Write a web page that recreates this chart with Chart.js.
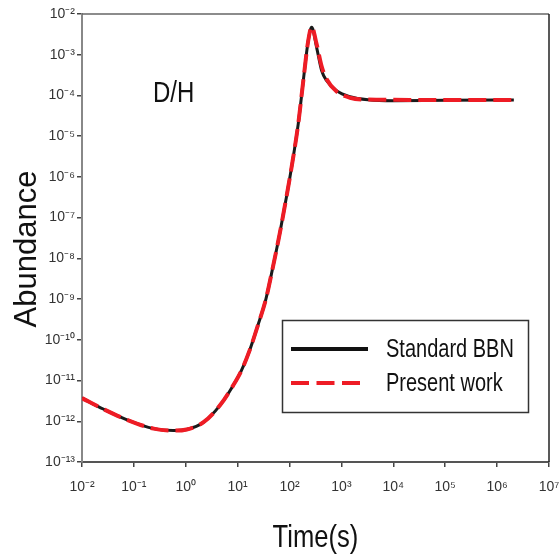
<!DOCTYPE html>
<html>
<head>
<meta charset="utf-8">
<script src="https://cdn.jsdelivr.net/npm/chart.js@4.4.1/dist/chart.umd.min.js"></script>
<style>
html,body{margin:0;padding:0;background:#fff;}
#wrap{position:relative;width:559px;height:556px;}
</style>
</head>
<body>
<div id="wrap"><canvas id="c" width="559" height="556"></canvas></div>
<script>
// ---- data ----
const times = [0.01, 0.0257, 0.072, 0.24, 0.58, 1.04, 2.2, 4.6, 8.2, 11.9, 17, 24.6, 35, 48, 65, 85, 110, 147, 184, 229, 267, 333, 415, 519, 807, 1460, 3300, 10000, 100000, 1000000, 2100000];
const standardBBN = [3.7e-12, 2.0e-12, 1.1e-12, 6.6e-13, 5.9e-13, 6.3e-13, 9.5e-13, 2.5e-12, 7.6e-12, 1.8e-11, 5.5e-11, 2.3e-10, 1.0e-9, 6.3e-9, 4.2e-8, 2.7e-7, 1.8e-6, 2.0e-5, 2.3e-4, 2.2e-3, 4.7e-3, 1.5e-3, 4.1e-4, 2.3e-4, 1.3e-4, 9.3e-5, 7.8e-5, 7.4e-5, 7.6e-5, 7.7e-5, 7.7e-5];
const presentWork = [3.7e-12, 2.0e-12, 1.1e-12, 6.6e-13, 5.9e-13, 6.3e-13, 9.5e-13, 2.5e-12, 7.6e-12, 1.8e-11, 5.5e-11, 2.3e-10, 1.0e-9, 6.3e-9, 4.2e-8, 2.7e-7, 1.8e-6, 2.0e-5, 2.3e-4, 2.2e-3, 4.8e-3, 1.8e-3, 5.2e-4, 2.5e-4, 1.25e-4, 8.8e-5, 7.9e-5, 7.8e-5, 7.7e-5, 7.7e-5, 7.7e-5];
const seriesNames = ['Standard BBN', 'Present work'];
const xTickExps = [-2, -1, 0, 1, 2, 3, 4, 5, 6, 7];
const yTickExps = [-13, -12, -11, -10, -9, -8, -7, -6, -5, -4, -3, -2];
const xTitle = 'Time(s)';
const yTitle = 'Abundance';
const panelLabel = 'D/H';

const SUP = {'-':'\u207B','0':'\u2070','1':'\u00B9','2':'\u00B2','3':'\u00B3','4':'\u2074','5':'\u2075','6':'\u2076','7':'\u2077','8':'\u2078','9':'\u2079'};
function powLabel(v){
  const e = Math.round(Math.log10(v));
  return '10' + String(e).split('').map(c=>SUP[c]).join('');
}
const REG = '"Liberation Sans", Arial, sans-serif';
const SQ = 0.8; // horizontal squeeze for the narrow lettering

function narrowText(ctx, txt, x, y, size, align){
  ctx.save();
  ctx.font = size + 'px ' + REG;
  ctx.textAlign = align;
  ctx.translate(x, y);
  ctx.scale(SQ, 1);
  ctx.fillText(txt, 0, 0);
  ctx.restore();
}

const pts = arr => times.map((t,i)=>({x:t, y:arr[i]}));

const decorPlugin = {
  id:'decor',
  afterDraw(chart){
    const ctx = chart.ctx, a = chart.chartArea;
    ctx.save();
    // top & right frame
    ctx.strokeStyle = '#666'; ctx.lineWidth = 1.5;
    ctx.beginPath(); ctx.moveTo(a.left, a.top); ctx.lineTo(a.right, a.top); ctx.stroke();
    ctx.strokeStyle = '#222';
    ctx.beginPath(); ctx.moveTo(a.right, a.top); ctx.lineTo(a.right, a.bottom); ctx.stroke();
    // titles
    ctx.fillStyle = '#111';
    ctx.textBaseline = 'alphabetic';
    narrowText(ctx, xTitle, (a.left + a.right)/2, 547, 32, 'center');
    ctx.save();
    ctx.translate(36, 249); ctx.rotate(-Math.PI/2);
    ctx.font = '31px ' + REG; ctx.textAlign = 'center';
    ctx.fillText(yTitle, 0, 0);
    ctx.restore();
    narrowText(ctx, panelLabel, 153, 102, 30, 'left');
    // legend
    ctx.strokeStyle = '#333'; ctx.lineWidth = 1.5;
    ctx.strokeRect(282.5, 320.5, 246, 92);
    ctx.lineWidth = 4; ctx.strokeStyle = '#111'; ctx.setLineDash([]);
    ctx.beginPath(); ctx.moveTo(291, 349); ctx.lineTo(368, 349); ctx.stroke();
    ctx.strokeStyle = '#ee1c25'; ctx.setLineDash([18, 7.5]);
    ctx.beginPath(); ctx.moveTo(291, 383); ctx.lineTo(360, 383); ctx.stroke();
    ctx.setLineDash([]);
    ctx.fillStyle = '#111';
    ctx.textBaseline = 'middle';
    narrowText(ctx, seriesNames[0], 386, 350, 25, 'left');
    narrowText(ctx, seriesNames[1], 386, 384, 25, 'left');
    ctx.restore();
  }
};

new Chart(document.getElementById('c'), {
  type:'line',
  data:{
    datasets:[
      {label:seriesNames[0], data:pts(standardBBN), borderColor:'#1a1a1a', borderWidth:3, pointRadius:0, cubicInterpolationMode:'monotone', order:2, fill:false},
      {label:seriesNames[1], data:pts(presentWork), borderColor:'#ee1c25', borderWidth:4, borderDash:[18,7], pointRadius:0, cubicInterpolationMode:'monotone', order:1, fill:false}
    ]
  },
  options:{
    responsive:false, animation:false, devicePixelRatio:1,
    layout:{padding:{left:0, top:14, right:10, bottom:0}},
    plugins:{legend:{display:false}, tooltip:{enabled:false}},
    scales:{
      x:{
        type:'logarithmic', min:1e-2, max:1e7,
        afterBuildTicks(s){ s.ticks = xTickExps.map(e=>({value:Math.pow(10,e)})); },
        afterFit(s){ s.height = 94; s.paddingLeft = 0; s.paddingRight = 0; },
        ticks:{callback:(v)=>powLabel(v), autoSkip:false, maxRotation:0, padding:12, color:'#333', font:{family:REG, size:14}},
        grid:{drawOnChartArea:false, drawTicks:true, tickLength:5, color:'#444', lineWidth:1.5},
        border:{display:true, color:'#555', width:2}
      },
      y:{
        type:'logarithmic', min:1e-13, max:1e-2,
        afterBuildTicks(s){ s.ticks = yTickExps.map(e=>({value:Math.pow(10,e)})); },
        afterFit(s){ s.width = 82; s.paddingTop = 0; s.paddingBottom = 0; },
        ticks:{callback:(v)=>powLabel(v), autoSkip:false, padding:2, color:'#333', font:{family:REG, size:14}},
        grid:{drawOnChartArea:false, drawTicks:true, tickLength:5, color:'#444', lineWidth:1.5},
        border:{display:true, color:'#888', width:2}
      }
    }
  },
  plugins:[decorPlugin]
});
</script>
</body>
</html>
